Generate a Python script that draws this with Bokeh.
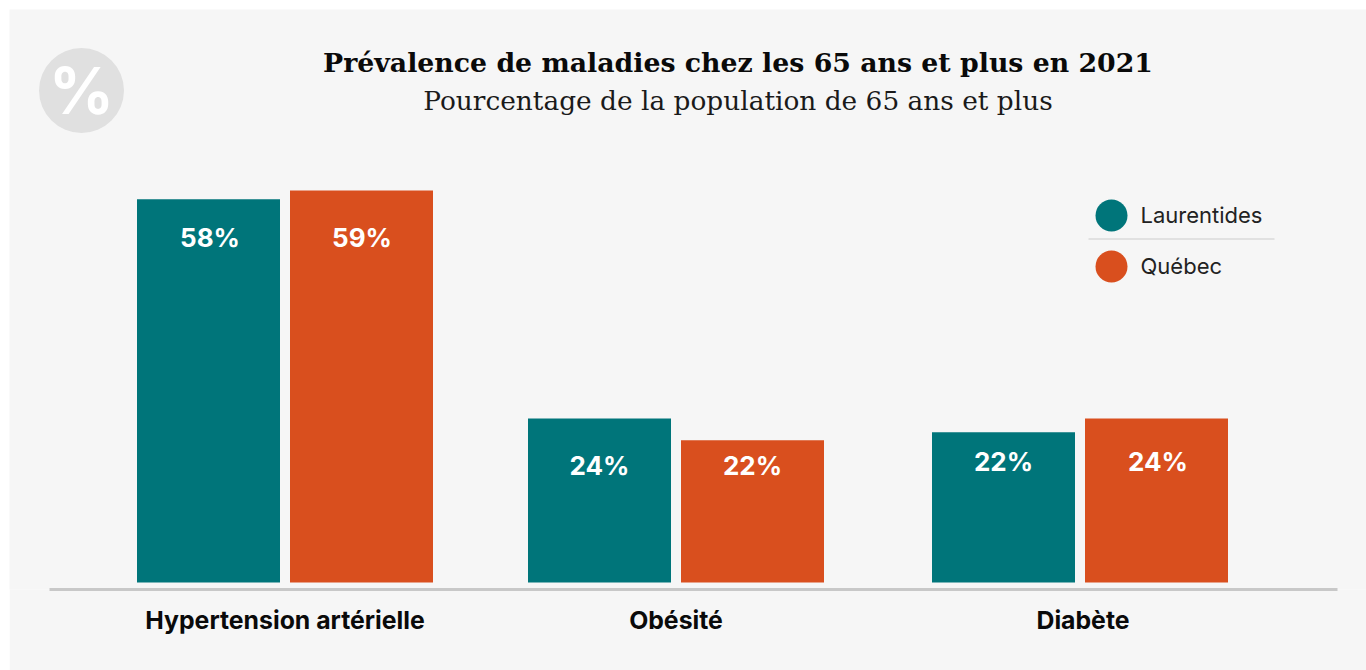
from bokeh.plotting import figure
from bokeh.models import Range1d, FixedTicker, ColumnDataSource
from bokeh.embed import file_html
from bokeh.resources import INLINE
from bokeh.core.properties import value

categories = ["Hypertension artérielle", "Obésité", "Diabète"]
series_names = ["Laurentides", "Québec"]
laurentides = [57.7, 24.7, 22.6]
quebec = [59.0, 21.4, 24.7]
labels_laurentides = ["58%", "24%", "22%"]
labels_quebec = ["59%", "22%", "24%"]
title = "Prévalence de maladies chez les 65 ans et plus en 2021"
subtitle = "Pourcentage de la population de 65 ans et plus"

TEAL = "#00757A"
ORANGE = "#D94F1E"
BG = "#F6F6F6"
SANS = "Inter"
SERIF = "DejaVu Serif"

# layout: x data are panel pixels, y data are percent
centers = [285, 676, 1080]
tick_pos = [285, 676, 1083]
offset = 76.5
bar_w = 143
label_px = [237, 465, 461]
dx_laurentides = [1.5, 0, 0]
dx_quebec = [0.5, 0, 1.5]
K = 6.644
BASE = 582
def Y(py):
    return (BASE - py) / K

W, H = 1357, 661
L, R, T, B = 9.5, 1366.5, 9, 589
p = figure(width=W, height=H, output_backend="svg", toolbar_location=None,
           x_range=Range1d(L, R), y_range=Range1d(Y(B), Y(T)),
           background_fill_color=BG, border_fill_color=BG,
           min_border_left=0, min_border_right=0,
           min_border_top=0, min_border_bottom=9 + H - B,
           x_axis_location="below", y_axis_location=None, outline_line_color=None)
p.styles = {"margin-left": "9px", "margin-top": "9px"}
p.grid.visible = False

ax = p.xaxis[0]
ax.bounds = (49, 1337)
ax.ticker = FixedTicker(ticks=tick_pos)
ax.major_label_overrides = dict(zip(tick_pos, categories))
ax.major_tick_line_color = None
ax.minor_tick_line_color = None
ax.axis_line_color = "#C8C8C8"
ax.axis_line_width = 3
ax.major_label_standoff = 9
ax.major_label_text_font = SANS
ax.major_label_text_font_style = "bold"
ax.major_label_text_font_size = "24.8px"
ax.major_label_text_color = "#0A0A0A"

for vals, labs, sign, col, dx in ((laurentides, labels_laurentides, -1, TEAL, dx_laurentides),
                                  (quebec, labels_quebec, 1, ORANGE, dx_quebec)):
    xs = [c + sign * offset for c in centers]
    src = ColumnDataSource(dict(x=xs, top=vals, lab=labs, ly=[Y(v) for v in label_px],
                                lx=[a + b for a, b in zip(xs, dx)]))
    p.vbar(x="x", top="top", bottom=0, width=bar_w, color=col, line_color=None, source=src)
    p.text(x="lx", y="ly", text="lab", source=src, text_color="#FFFFFF",
           text_font=value(SANS), text_font_style="bold", text_font_size="26px",
           text_align="center", text_baseline="middle")

# legend
p.scatter(x=[1111.5, 1111.5], y=[Y(215), Y(266)], size=32, color=[TEAL, ORANGE], line_color=None)
p.text(x=[1140.5, 1140.5], y=[Y(214), Y(265.5)], text=series_names, text_color="#222222",
       text_font=value(SANS), text_font_size="22px", text_baseline="middle")
p.segment(x0=[1088.5], x1=[1274.5], y0=[Y(238.5)], y1=[Y(238.5)], line_color="#CCCCCC", line_width=1)

# icon
p.scatter(x=[81.5], y=[Y(90)], size=85, color="#E0E0E0", line_color=None)
p.text(x=[81.5], y=[Y(90)], text=["%"], text_font=value(SANS), text_font_style="bold", text_font_size="64px",
       text_color="#FFFFFF", text_align="center", text_baseline="middle")

p.text(x=[738], y=[Y(62)], text=[title], text_font=value(SERIF), text_font_style="bold",
       text_font_size="26.75px", text_color="#0A0A0A", text_align="center", text_baseline="middle")
p.text(x=[738], y=[Y(100)], text=[subtitle], text_font=value(SERIF),
       text_font_size="26.4px", text_color="#1A1A1A", text_align="center", text_baseline="middle")

open("out.html", "w").write(file_html(p, INLINE))
